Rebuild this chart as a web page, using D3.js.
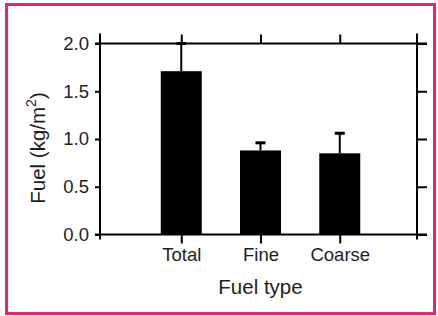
<!DOCTYPE html>
<html>
<head>
<meta charset="utf-8">
<script src="https://cdn.jsdelivr.net/npm/d3@7"></script>
<style>
  body { margin: 0; background: #fff; }
  text { font-family: "Liberation Sans", Arial, sans-serif; fill: #1e1e1e; }
</style>
</head>
<body>
<svg width="438" height="316"></svg>
<script>
var categories = ["Total", "Fine", "Coarse"];
var means = [1.71, 0.88, 0.85];
var errors = [0.29, 0.08, 0.21];
var yTicks = [0.0, 0.5, 1.0, 1.5, 2.0];

var svg = d3.select("svg");

// pink frame
svg.append("rect")
	.attr("x", 6.5).attr("y", 4.5)
	.attr("width", 428).attr("height", 309)
	.attr("fill", "none")
	.attr("stroke", "#e8285c")
	.attr("stroke-width", 3);

var plotL = 100, plotR = 417, plotT = 43.5, plotB = 234.5;
var fs = 18.5;      // tick labels
var titleFs = 20.5; // axis titles

var x = d3.scalePoint()
	.domain(categories)
	.range([plotL + 2, plotR + 2])
	.padding(1);

var y = d3.scaleLinear()
	.domain([0, 2])
	.range([plotB, plotT]);

var barW = 41;

// bars
svg.selectAll(".bar")
	.data(categories)
	.enter().append("rect")
	.attr("x", (d) => x(d) - barW / 2)
	.attr("y", (d, i) => y(means[i]))
	.attr("width", barW)
	.attr("height", (d, i) => plotB - y(means[i]))
	.attr("fill", "#000");

// error bars
var eb = svg.selectAll(".err")
	.data(categories)
	.enter().append("g");
eb.append("line")
	.attr("x1", (d) => x(d)).attr("x2", (d) => x(d))
	.attr("y1", (d, i) => y(means[i]))
	.attr("y2", (d, i) => y(means[i] + errors[i]))
	.attr("stroke", "#000").attr("stroke-width", 2);
eb.append("line")
	.attr("x1", (d) => x(d) - 5).attr("x2", (d) => x(d) + 5)
	.attr("y1", (d, i) => y(means[i] + errors[i]))
	.attr("y2", (d, i) => y(means[i] + errors[i]))
	.attr("stroke", "#000").attr("stroke-width", 3);

// axes
var yLeft = svg.append("g")
	.attr("transform", "translate(" + plotL + ",0)")
	.call(d3.axisLeft(y).tickValues(yTicks).tickFormat(d3.format(".1f")).tickSize(5).tickPadding(6));
var yRight = svg.append("g")
	.attr("transform", "translate(" + plotR + ",0)")
	.call(d3.axisRight(y).tickValues(yTicks).tickFormat("").tickSize(10));
var xBottom = svg.append("g")
	.attr("transform", "translate(0," + plotB + ")")
	.call(d3.axisBottom(x).tickSize(9).tickPadding(4));
var xTop = svg.append("g")
	.attr("transform", "translate(0," + plotT + ")")
	.call(d3.axisTop(x).tickSize(9).tickFormat(""));

[yLeft, yRight, xBottom, xTop].forEach(function(g) {
	g.select(".domain").remove();
	g.selectAll("line").attr("stroke", "#000").attr("stroke-width", 2);
	g.selectAll("text").attr("font-size", fs).attr("fill", "#1e1e1e")
		.attr("font-family", "Liberation Sans, Arial, sans-serif");
});

// frame lines, extending past corners like the original
var frame = svg.append("g").attr("stroke", "#000").attr("stroke-width", 2);
frame.append("line").attr("x1", plotL - 5).attr("x2", plotR + 10).attr("y1", plotT).attr("y2", plotT);
frame.append("line").attr("x1", plotL - 5).attr("x2", plotR + 10).attr("y1", plotB).attr("y2", plotB);
frame.append("line").attr("x1", plotL).attr("x2", plotL).attr("y1", plotT - 10).attr("y2", plotB + 5);
frame.append("line").attr("x1", plotR).attr("x2", plotR).attr("y1", plotT - 10).attr("y2", plotB + 5);

// axis titles
var yl = svg.append("text")
	.attr("transform", "translate(45,148) rotate(-90)")
	.attr("text-anchor", "middle")
	.attr("font-size", titleFs);
yl.append("tspan").text("Fuel (kg/m");
yl.append("tspan").attr("font-size", 14).attr("dy", -9).text("2");
yl.append("tspan").attr("dy", 9).text(")");

svg.append("text")
	.attr("x", x("Fine"))
	.attr("y", 294)
	.attr("text-anchor", "middle")
	.attr("font-size", titleFs)
	.text("Fuel type");
</script>
</body>
</html>
